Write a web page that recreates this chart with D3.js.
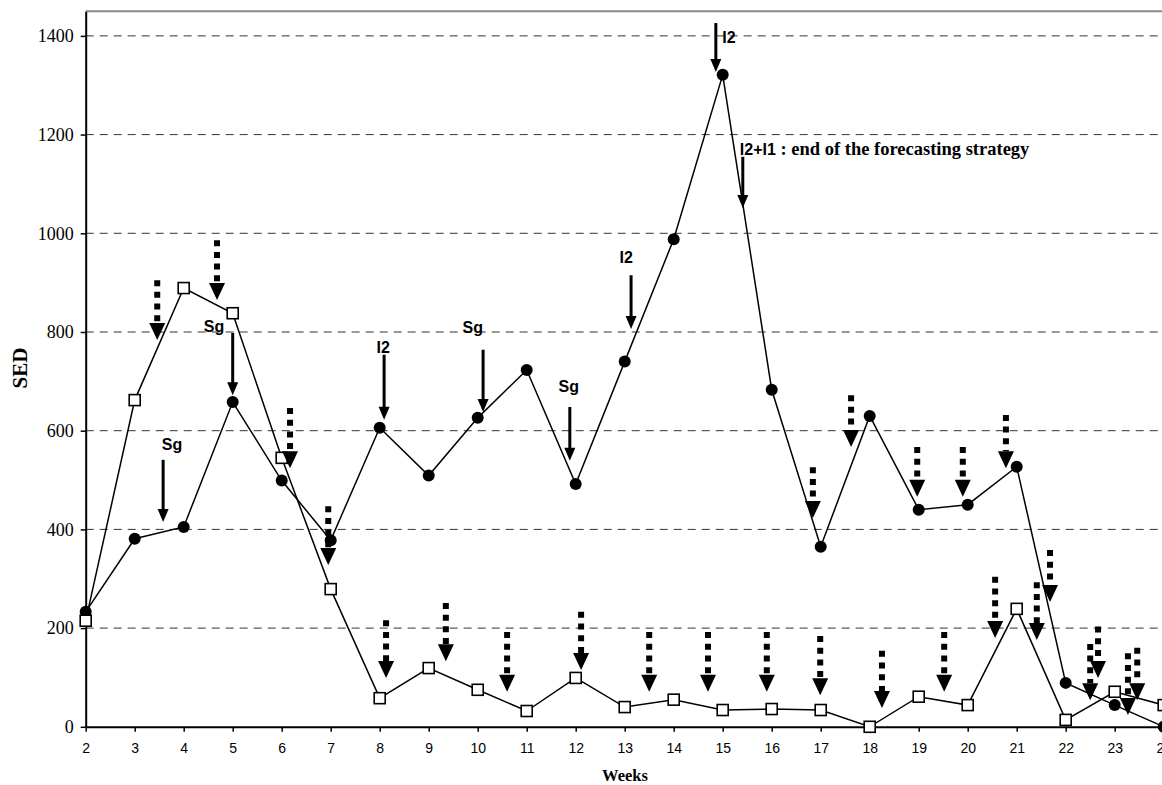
<!DOCTYPE html>
<html><head><meta charset="utf-8">
<script src="https://cdn.jsdelivr.net/npm/d3@7"></script>
<style>body{margin:0;background:#fff}</style>
</head><body>
<svg id="c" width="1162" height="785"></svg>
<script>
const weeks = [2,3,4,5,6,7,8,9,10,11,12,13,14,15,16,17,18,19,20,21,22,23,24];
const circleSeries = [233,381,405,658,499,378,606,509,626,723,492,740,988,1321,683,365,630,440,450,527,89,44,0];
const squareSeries = [215,662,889,838,545,279,58,119,75,32,99,40,55,34,36,34,0,61,44,239,14,71,44];
const yTicks = [0,200,400,600,800,1000,1200,1400];

// solid annotated arrows (week position, start value, tip value)
const solidLabels = ["Sg","Sg","I2","Sg","Sg","I2","I2","I2+I1"];
const solidWeek   = [3.58,5.0,8.09,10.11,11.88,13.13,14.86,15.41];
const solidFrom   = [541,798,754,764,648,915,1426,1155];
const solidTo     = [415,672,622,638,539,806,1327,1051];
const labelWeek   = [3.76,4.62,8.07,9.9,11.86,13.03,14.99,15.35];
const labelValue  = [561,800,757,798,678,940,1386,1158];
const labelAnchor = ["middle","middle","middle","middle","middle","middle","start","start"];
const endNote = " : end of the forecasting strategy";

// dotted arrows (week position, start value, tip value)
const dotWeek = [3.46,4.68,6.17,6.95,8.13,9.35,10.6,12.11,13.5,14.7,15.9,16.84,16.99,17.62,18.25,18.97,19.52,19.9,20.56,20.78,21.41,21.68,22.5,22.66,23.27,23.46];
const dotFrom = [905,986,646,447,216,251,192,233,192,192,192,526,184,672,154,567,192,567,304,632,293,358,168,203,149,160];
const dotTo   = [784,865,524,328,99,133,71,115,71,71,71,423,64,567,38,466,71,466,180,524,176,253,54,99,24,54];

const SERIF = "'Liberation Serif','Times New Roman',serif";
const SANS = "'Liberation Sans',Arial,sans-serif";
const svg = d3.select("#c");
const x = d3.scaleLinear().domain([2,24]).range([85.7, 1163.7]);
const y = d3.scaleLinear().domain([0,1450]).range([726.8, 11.2]);

// top border
svg.append("line").attr("x1",x(2)).attr("x2",1162).attr("y1",y(1450)).attr("y2",y(1450))
  .attr("stroke","#8a8a8a").attr("stroke-width",2);

// gridlines
svg.append("g").selectAll("line").data(yTicks.filter(d=>d>0)).join("line")
  .attr("x1",x(2)).attr("x2",1162).attr("y1",d=>y(d)).attr("y2",d=>y(d))
  .attr("stroke","#333").attr("stroke-width",1).attr("stroke-dasharray","8,6");

// axes
const gy = svg.append("g").attr("transform",`translate(${x(2)},0)`)
  .call(d3.axisLeft(y).tickValues(yTicks).tickFormat(d3.format("d")).tickSize(5).tickSizeOuter(0).tickPadding(7));
gy.attr("font-family",SERIF);
gy.select(".domain").attr("stroke","#000").attr("stroke-width",2);
gy.selectAll(".tick line").attr("stroke","#000").attr("stroke-width",1.5);
gy.selectAll("text").style("font-family",SERIF).style("font-size","18px").attr("fill","#000");

const gx = svg.append("g").attr("transform",`translate(0,${y(0)})`)
  .call(d3.axisBottom(x).tickValues(weeks).tickFormat(d3.format("d")).tickSize(5).tickSizeOuter(0));
gx.attr("font-family",SANS);
gx.select(".domain").attr("stroke","#000").attr("stroke-width",2);
gx.selectAll(".tick line").attr("stroke","#000").attr("stroke-width",1.5);
gx.selectAll("text").style("font-family",SANS).style("font-size","14px").attr("fill","#000").attr("y",16);

// axis titles
svg.append("text").attr("x",625).attr("y",781).attr("text-anchor","middle")
  .style("font-family",SERIF).attr("font-weight","bold")
  .attr("font-size",16.5).text("Weeks");
svg.append("text").attr("transform","translate(27,368) rotate(-90)").attr("text-anchor","middle")
  .style("font-family",SERIF).attr("font-weight","bold")
  .attr("font-size",21).text("SED");

// lines
const line = d3.line().x((d,i)=>x(weeks[i])).y(d=>y(d));
svg.append("path").datum(circleSeries).attr("d",line).attr("fill","none").attr("stroke","#000").attr("stroke-width",1.5);
svg.append("path").datum(squareSeries).attr("d",line).attr("fill","none").attr("stroke","#000").attr("stroke-width",1.5);

svg.append("g").selectAll("circle").data(circleSeries).join("circle")
  .attr("cx",(d,i)=>x(weeks[i])).attr("cy",d=>y(d)).attr("r",6).attr("fill","#000");
svg.append("g").selectAll("rect").data(squareSeries).join("rect")
  .attr("x",(d,i)=>x(weeks[i])-5.5).attr("y",d=>y(d)-5.5).attr("width",11).attr("height",11)
  .attr("fill","#fff").attr("stroke","#000").attr("stroke-width",1.6);

// dotted arrows
const dg = svg.append("g");
dotWeek.forEach((w,i)=>{
  const px = x(w), top = y(dotFrom[i]), tip = y(dotTo[i]);
  const hh = 17, hw = 8;
  dg.append("line").attr("x1",px).attr("x2",px).attr("y1",top).attr("y2",tip-hh)
    .attr("stroke","#000").attr("stroke-width",6).attr("stroke-dasharray","6,5.7");
  dg.append("path").attr("d",`M${px-hw},${tip-hh}L${px+hw},${tip-hh}L${px},${tip}Z`).attr("fill","#000");
});

// solid arrows and labels
const sg = svg.append("g");
solidWeek.forEach((w,i)=>{
  const px = x(w), top = y(solidFrom[i]), tip = y(solidTo[i]);
  const hh = 13, hw = 5.5;
  sg.append("line").attr("x1",px).attr("x2",px).attr("y1",top).attr("y2",tip-hh+1)
    .attr("stroke","#000").attr("stroke-width",3);
  sg.append("path").attr("d",`M${px-hw},${tip-hh}L${px+hw},${tip-hh}L${px},${tip}Z`).attr("fill","#000");
  const t = sg.append("text").attr("x",x(labelWeek[i])).attr("y",y(labelValue[i]))
    .attr("text-anchor",labelAnchor[i])
    .style("font-family",SANS).attr("font-weight","bold")
    .attr("font-size",16).attr("fill","#000");
  t.append("tspan").text(solidLabels[i]);
  if (i === solidLabels.length-1) {
    t.append("tspan").style("font-family",SERIF)
      .attr("font-size",18.5).text(endNote);
  }
});
</script>
</body></html>
